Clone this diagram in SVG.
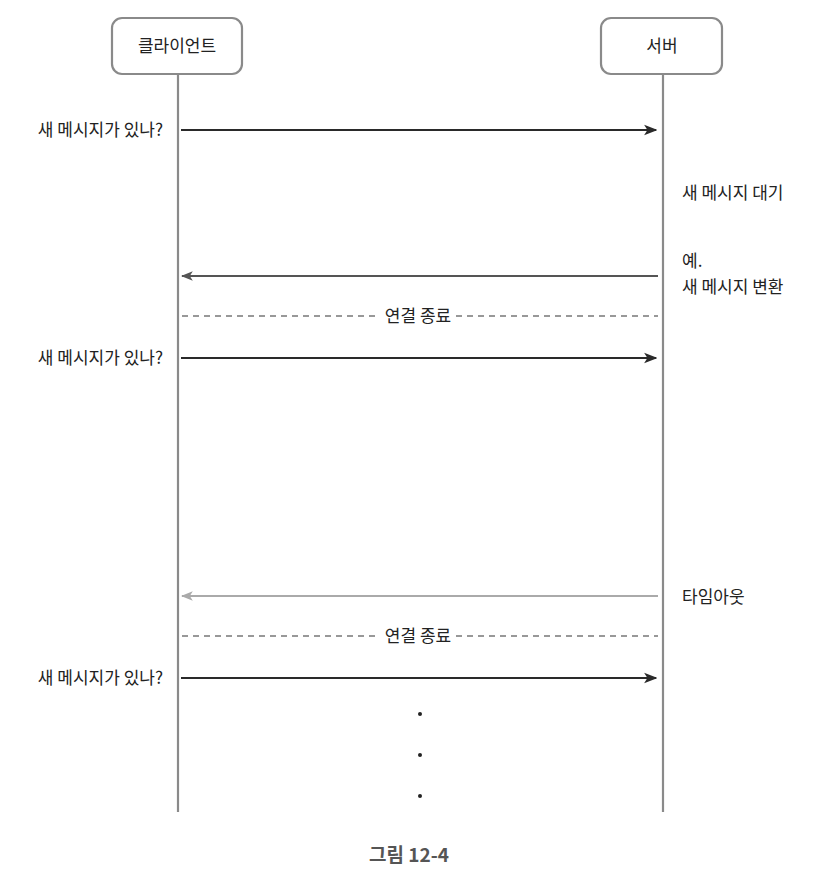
<svg xmlns="http://www.w3.org/2000/svg" width="816" height="872" viewBox="0 0 816 872">
<style>
text{font-family:"Noto Sans CJK KR","Noto Sans",sans-serif;font-size:17px;fill:#222}
.box{fill:#fff;stroke:#8a8a8a;stroke-width:2.2}
.life{stroke:#8a8a8a;stroke-width:2.2}
.msg{stroke:#2a2a2a;stroke-width:2.2;fill:none}
.reply{stroke:#555;stroke-width:2;fill:none}
.timeout{stroke:#aaa;stroke-width:2;fill:none}
.dash{stroke:#333;stroke-width:1.2;stroke-dasharray:6,5;fill:none}
.cap{font-size:19px;font-weight:bold;fill:#555}
</style>
<defs>
<marker id="ah" viewBox="0 0 10 10" refX="9" refY="5" markerWidth="6" markerHeight="6" orient="auto" markerUnits="strokeWidth"><path d="M0,1 L10,5 L0,9 L2.5,5 Z" fill="#2a2a2a"/></marker>
<marker id="ahg" viewBox="0 0 10 10" refX="9" refY="5" markerWidth="6" markerHeight="6" orient="auto" markerUnits="strokeWidth"><path d="M0,1 L10,5 L0,9 L2.5,5 Z" fill="#555"/></marker>
<marker id="ahl" viewBox="0 0 10 10" refX="9" refY="5" markerWidth="6" markerHeight="6" orient="auto" markerUnits="strokeWidth"><path d="M0,1 L10,5 L0,9 L2.5,5 Z" fill="#aaa"/></marker>
</defs>
<rect width="816" height="872" fill="#fff"/>
<g id="client">
<rect class="box" x="112" y="18" width="130" height="56" rx="10"/>
<text x="177" y="52" text-anchor="middle">클라이언트</text>
<line class="life" x1="178" y1="74" x2="178" y2="812"/>
</g>
<g id="server">
<rect class="box" x="601" y="18" width="121" height="56" rx="10"/>
<text x="662" y="52" text-anchor="middle">서버</text>
<line class="life" x1="663" y1="74" x2="663" y2="812"/>
</g>
<g id="connectors">
<line class="msg" x1="181" y1="130" x2="656" y2="130" marker-end="url(#ah)"/>
<line class="reply" x1="658" y1="276" x2="182" y2="276" marker-end="url(#ahg)"/>
<line class="dash" x1="182" y1="316" x2="378" y2="316"/>
<line class="dash" x1="456" y1="316" x2="658" y2="316"/>
<line class="msg" x1="181" y1="358" x2="656" y2="358" marker-end="url(#ah)"/>
<line class="timeout" x1="658" y1="596" x2="182" y2="596" marker-end="url(#ahl)"/>
<line class="dash" x1="182" y1="636" x2="378" y2="636"/>
<line class="dash" x1="456" y1="636" x2="658" y2="636"/>
<line class="msg" x1="181" y1="678" x2="656" y2="678" marker-end="url(#ah)"/>
</g>
<g id="labels">
<text x="163" y="136" text-anchor="end">새 메시지가 있나?</text>
<text x="682" y="199">새 메시지 대기</text>
<text x="682" y="267">예.</text>
<text x="682" y="293">새 메시지 변환</text>
<text x="418" y="322" text-anchor="middle">연결 종료</text>
<text x="163" y="364" text-anchor="end">새 메시지가 있나?</text>
<text x="682" y="603">타임아웃</text>
<text x="418" y="642" text-anchor="middle">연결 종료</text>
<text x="163" y="684" text-anchor="end">새 메시지가 있나?</text>
</g>
<g id="dots" fill="#222">
<circle cx="420" cy="714" r="2"/>
<circle cx="420" cy="755" r="2"/>
<circle cx="420" cy="796" r="2"/>
</g>
<text class="cap" x="409" y="862" text-anchor="middle">그림 12-4</text>
</svg>
